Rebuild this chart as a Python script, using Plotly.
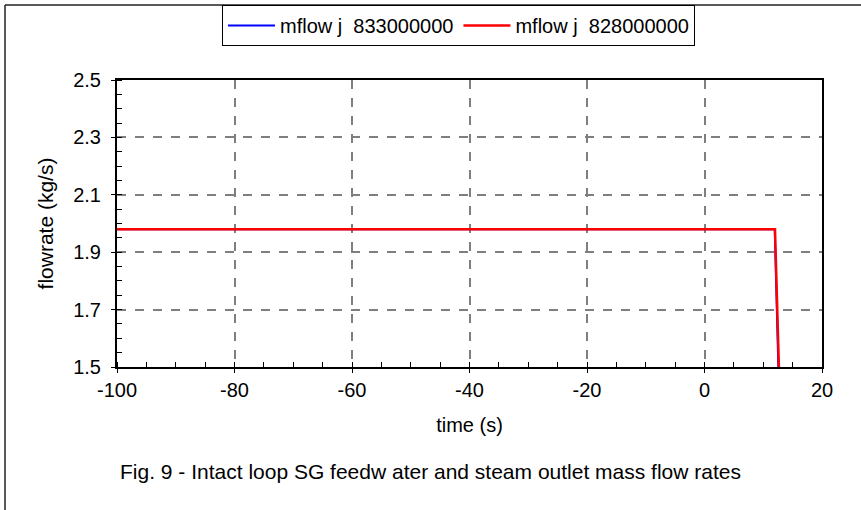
import plotly.graph_objects as go

# Data
time_833 = [-100, 11.95, 12.7]
flow_833 = [1.98, 1.98, 1.40]
time_828 = [-100, 12.0, 12.8]
flow_828 = [1.98, 1.98, 1.40]
name_833 = "mflow j  833000000"
name_828 = "mflow j  828000000"
x_ticks = [-100, -80, -60, -40, -20, 0, 20]
y_ticks = [1.5, 1.7, 1.9, 2.1, 2.3, 2.5]
caption = "Fig. 9 - Intact loop SG feedw ater and steam outlet mass flow rates"

FONT = "Liberation Sans, Arial, sans-serif"

fig = go.Figure()
fig.add_trace(go.Scatter(x=time_833, y=flow_833, mode="lines", name=name_833,
                         line=dict(color="#0000ff", width=2)))
fig.add_trace(go.Scatter(x=time_828, y=flow_828, mode="lines", name=name_828,
                         line=dict(color="#ff0000", width=2.5)))

L, R, T, B = 117, 39, 80, 143
W, H = 861, 510
pw, ph = W - L - R, H - T - B

def px_x(p):
    return (p - L) / pw

def px_y(p):
    return (H - B - p) / ph

fig.update_layout(
    width=W, height=H,
    margin=dict(l=L, r=R, t=T, b=B, autoexpand=False),
    paper_bgcolor="white", plot_bgcolor="white",
    font=dict(family=FONT, size=20, color="black"),
    showlegend=True,
    legend=dict(orientation="h", xref="container", yref="container",
                x=222 / W, y=1 - 5 / H, xanchor="left", yanchor="top",
                bordercolor="black", borderwidth=1, bgcolor="white",
                font=dict(family=FONT, size=20), itemwidth=47,
                tracegroupgap=0, traceorder="normal"),
    xaxis=dict(range=[-100, 20], tickvals=x_ticks, ticktext=[str(v) for v in x_ticks],
               showgrid=True, gridcolor="#7f7f7f", griddash="dash", gridwidth=1.5,
               showline=True, linecolor="black", linewidth=2, mirror=True,
               ticks="outside", ticklen=4, tickcolor="black", zeroline=False,
               minor=dict(dtick=5, ticks="inside", ticklen=5, tickcolor="black", showgrid=False),
               title=dict(text="time (s)", font=dict(size=20), standoff=18),
               tickfont=dict(size=20)),
    yaxis=dict(range=[1.5, 2.5], tickvals=y_ticks, ticktext=[f"{v:.1f}" for v in y_ticks],
               showgrid=True, gridcolor="#7f7f7f", griddash="dash", gridwidth=1.5,
               showline=True, linecolor="black", linewidth=2, mirror=True,
               ticks="outside", ticklen=4, tickcolor="black", zeroline=False,
               ticklabelstandoff=6,
               minor=dict(dtick=0.05, ticks="inside", ticklen=5, tickcolor="black", showgrid=False),
               title=dict(text="flowrate (kg/s)", font=dict(size=21), standoff=14),
               tickfont=dict(size=20)),
)

# outer frame (left and top edges visible)
fig.add_shape(type="line", xref="paper", yref="paper",
              x0=px_x(5), x1=px_x(870), y0=px_y(5), y1=px_y(5),
              line=dict(color="#222", width=1.5))
fig.add_shape(type="line", xref="paper", yref="paper",
              x0=px_x(5), x1=px_x(5), y0=px_y(5), y1=px_y(520),
              line=dict(color="#222", width=1.5))

fig.add_annotation(text=caption, xref="paper", yref="paper",
                   x=px_x(430), y=px_y(471), xanchor="center", yanchor="middle",
                   showarrow=False, font=dict(family=FONT, size=21))

fig.write_html("out.html")
